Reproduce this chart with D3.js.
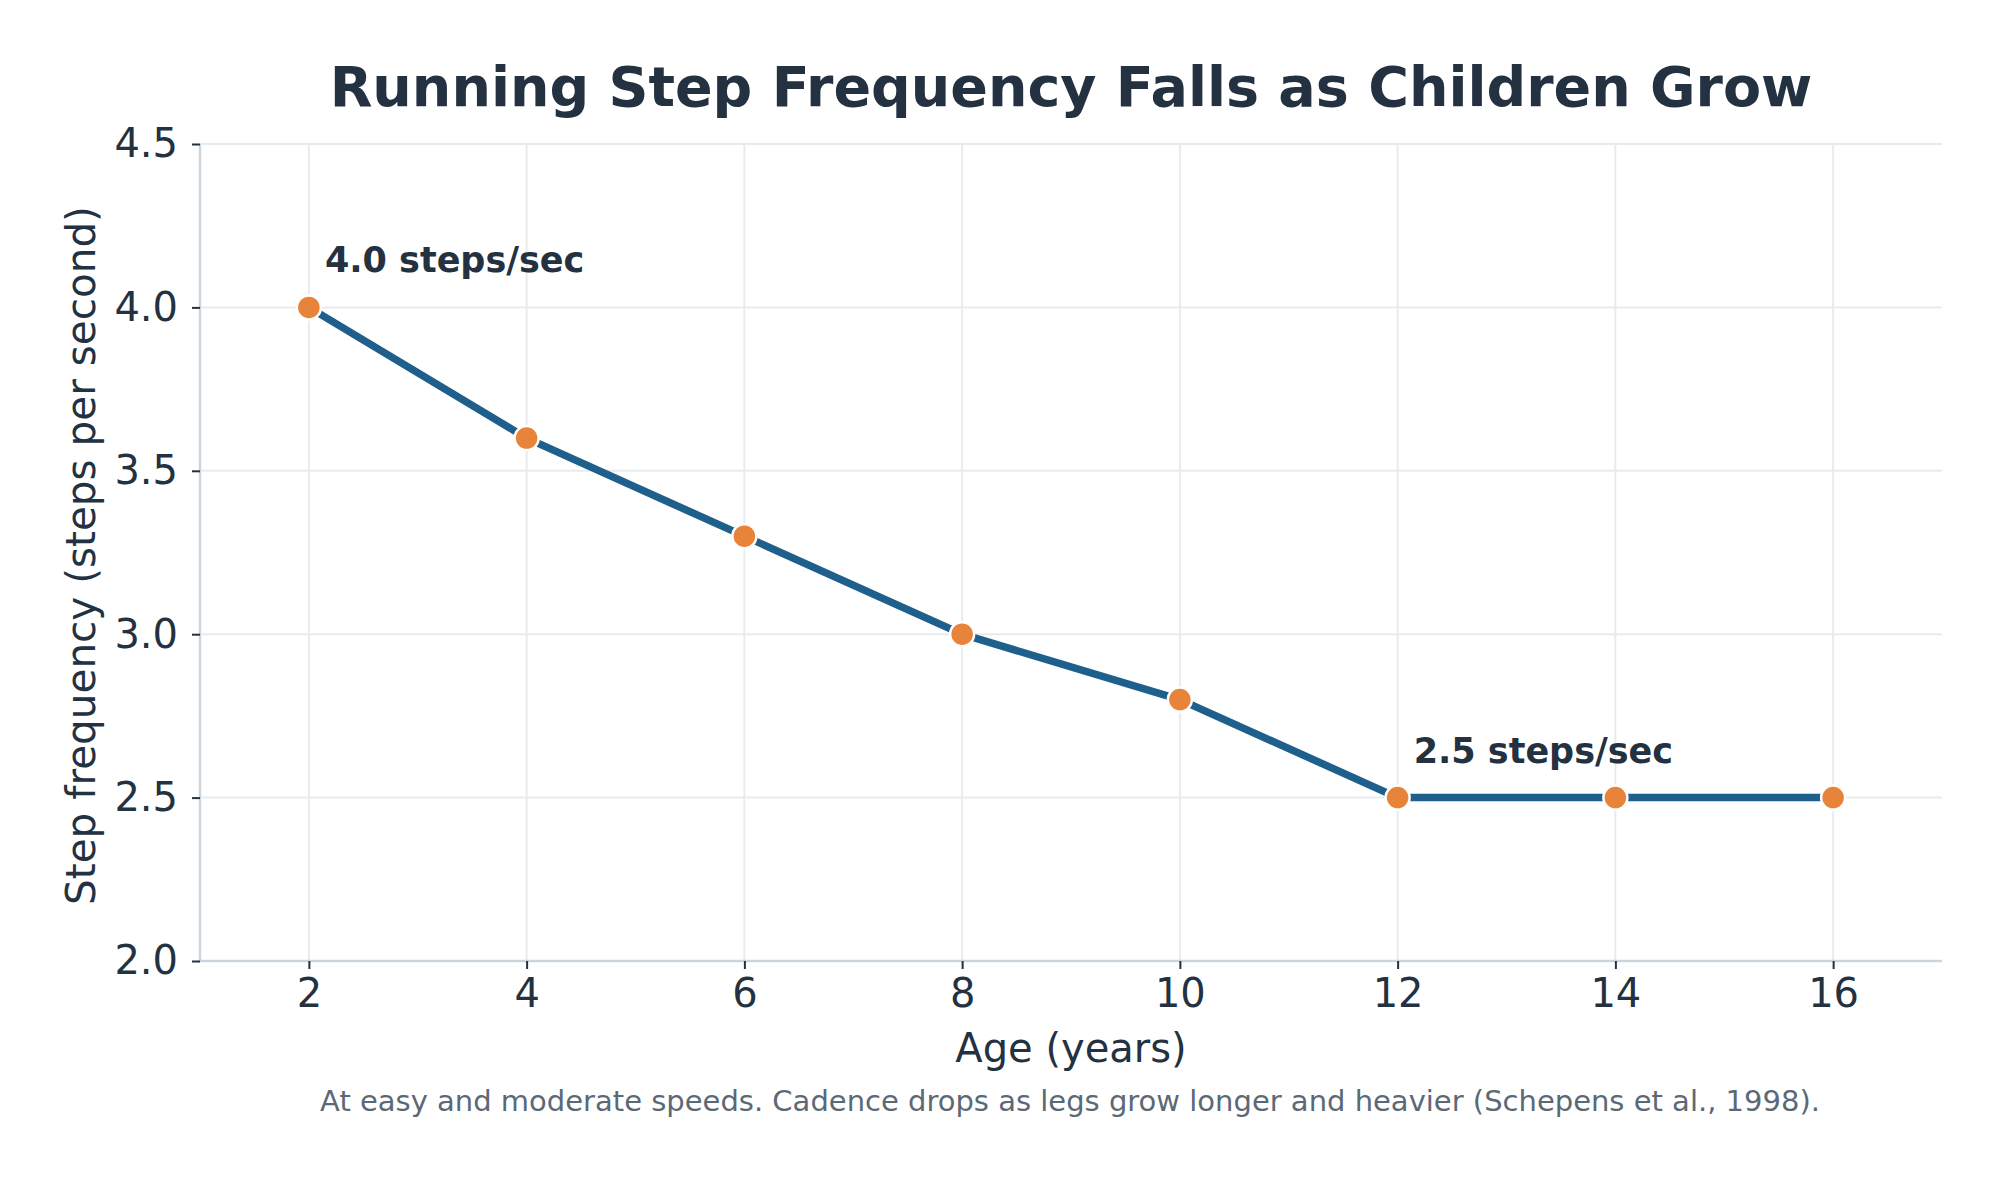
<!DOCTYPE html>
<html>
<head>
<meta charset="utf-8">
<script src="https://cdn.jsdelivr.net/npm/d3@7"></script>
<style>
  html, body { margin: 0; padding: 0; background: #ffffff; }
  svg { display: block; }
  text { font-family: "DejaVu Sans", sans-serif; }
</style>
</head>
<body>
<script>
// ---- data ----
const ages = [2, 4, 6, 8, 10, 12, 14, 16];
const stepFreq = [4.0, 3.6, 3.3, 3.0, 2.8, 2.5, 2.5, 2.5];
const xTickValues = [2, 4, 6, 8, 10, 12, 14, 16];
const yTickValues = [2.0, 2.5, 3.0, 3.5, 4.0, 4.5];
const annotations = [
  { age: 2, value: 4.0, label: "4.0 steps/sec" },
  { age: 12, value: 2.5, label: "2.5 steps/sec" }
];
const titleText = "Running Step Frequency Falls as Children Grow";
const xLabelText = "Age (years)";
const yLabelText = "Step frequency (steps per second)";
const captionText = "At easy and moderate speeds. Cadence drops as legs grow longer and heavier (Schepens et al., 1998).";

// ---- layout ----
const W = 2002, H = 1201;
const plot = { left: 200, right: 1942, top: 144, bottom: 961 };
const textDark = "#233140";
const gridColor = "#e8ebee";
const spineColor = "#cdd5dc";
const lineColor = "#1f5f8b";
const markerColor = "#e8833a";

const svg = d3.select("body").append("svg")
  .attr("width", W).attr("height", H)
  .attr("viewBox", `0 0 ${W} ${H}`);

svg.append("rect").attr("width", W).attr("height", H).attr("fill", "#ffffff");

const x = d3.scaleLinear().domain([1, 17]).range([plot.left, plot.right]);
const y = d3.scaleLinear().domain([2.0, 4.5]).range([plot.bottom, plot.top]);

// gridlines
const grid = svg.append("g");
grid.selectAll("line.vg").data(xTickValues).join("line")
  .attr("x1", d => x(d)).attr("x2", d => x(d))
  .attr("y1", plot.top).attr("y2", plot.bottom)
  .attr("stroke", gridColor).attr("stroke-width", 2);
grid.selectAll("line.hg").data(yTickValues).join("line")
  .attr("x1", plot.left).attr("x2", plot.right)
  .attr("y1", d => y(d)).attr("y2", d => y(d))
  .attr("stroke", gridColor).attr("stroke-width", 2);

// axes
const xAxis = d3.axisBottom(x).tickValues(xTickValues).tickFormat(d3.format("d"))
  .tickSize(8).tickPadding(10);
const yAxis = d3.axisLeft(y).tickValues(yTickValues).tickFormat(d3.format(".1f"))
  .tickSize(8).tickPadding(14);

const gx = svg.append("g").attr("transform", `translate(0,${plot.bottom})`).call(xAxis);
const gy = svg.append("g").attr("transform", `translate(${plot.left},0)`).call(yAxis);

[gx, gy].forEach(g => {
  g.select(".domain").attr("stroke", spineColor).attr("stroke-width", 2.5);
  g.selectAll(".tick line").attr("stroke", textDark).attr("stroke-width", 2);
  g.selectAll(".tick text").attr("fill", textDark)
    .style("font-family", "'DejaVu Sans', sans-serif").style("font-size", "40px");
});
gx.select(".domain").attr("d", `M${plot.left},0H${plot.right}`);
gy.select(".domain").attr("d", `M0,${plot.bottom}V${plot.top}`);

// line
const lineGen = d3.line().x((d, i) => x(ages[i])).y(d => y(d));
svg.append("path").datum(stepFreq)
  .attr("d", lineGen)
  .attr("fill", "none")
  .attr("stroke", lineColor)
  .attr("stroke-width", 7.5)
  .attr("stroke-linejoin", "round")
  .attr("stroke-linecap", "round");

// markers
svg.append("g").selectAll("circle").data(stepFreq).join("circle")
  .attr("cx", (d, i) => x(ages[i]))
  .attr("cy", d => y(d))
  .attr("r", 12)
  .attr("fill", markerColor)
  .attr("stroke", "#ffffff")
  .attr("stroke-width", 2.5);

// annotations
svg.append("g").selectAll("text").data(annotations).join("text")
  .attr("x", d => x(d.age) + 16)
  .attr("y", d => y(d.value) - 35)
  .attr("fill", textDark)
  .style("font-size", "35px")
  .style("font-weight", "bold")
  .text(d => d.label);

// title
svg.append("text")
  .attr("x", (plot.left + plot.right) / 2)
  .attr("y", 106)
  .attr("text-anchor", "middle")
  .attr("fill", textDark)
  .style("font-size", "55.5px")
  .style("font-weight", "bold")
  .text(titleText);

// x label
svg.append("text")
  .attr("x", (plot.left + plot.right) / 2)
  .attr("y", 1062)
  .attr("text-anchor", "middle")
  .attr("fill", textDark)
  .style("font-size", "40px")
  .text(xLabelText);

// y label
svg.append("text")
  .attr("transform", `translate(95,${(plot.top + plot.bottom) / 2 + 3}) rotate(-90)`)
  .attr("text-anchor", "middle")
  .attr("fill", textDark)
  .style("font-size", "40.5px")
  .text(yLabelText);

// caption
svg.append("text")
  .attr("x", 1070)
  .attr("y", 1111)
  .attr("text-anchor", "middle")
  .attr("fill", "#5b6976")
  .style("font-size", "29px")
  .text(captionText);
</script>
</body>
</html>
